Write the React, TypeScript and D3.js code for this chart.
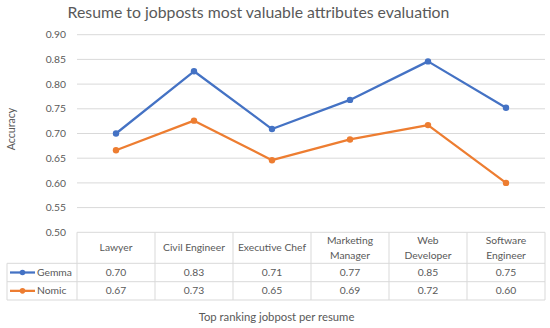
import React from "react";
import * as d3 from "d3";

const categories = ["Lawyer", "Civil Engineer", "Executive Chef", "Marketing Manager", "Web Developer", "Software Engineer"];
const headerLines = [["Lawyer"], ["Civil Engineer"], ["Executive Chef"], ["Marketing", "Manager"], ["Web", "Developer"], ["Software", "Engineer"]];
const gemma = [0.70, 0.826, 0.709, 0.768, 0.846, 0.752];
const nomic = [0.666, 0.726, 0.646, 0.688, 0.717, 0.600];
const yTicks = [0.5, 0.55, 0.6, 0.65, 0.7, 0.75, 0.8, 0.85, 0.9];
const seriesNames = ["Gemma", "Nomic"];
const seriesColors = ["#4472C4", "#ED7D31"];

const W = 550, H = 328;
const FONT = "Lato, 'Open Sans', sans-serif";
const TXT = "#595959";
const GRID = "#D9D9D9";
const FS = 10.3;

export default function App() {
  const x = d3.scaleBand<string>().domain(categories).range([77, 545]);
  const y = d3.scaleLinear().domain([0.5, 0.9]).range([232.3, 34.7]);
  const line = d3.line<number>()
    .x((_, i) => (x(categories[i]) as number) + x.bandwidth() / 2)
    .y((d) => y(d));
  const series = [gemma, nomic];
  const tableTop = y(0.5);
  const rowHeader = 263.3;
  const rowG = 281.7;
  const rowN = 300;
  const tableLeft = 7;
  const rowBounds = [[rowHeader, rowG], [rowG, rowN]];

  return (
    <div style={{ position: "absolute", left: 0, top: 0 }}>
      <svg width={W} height={H} style={{ display: "block", background: "#fff" }} fontFamily={FONT}>
        <rect width={W} height={H} fill="#fff" />
        <text x={258.5} y={17.5} textAnchor="middle" fontSize={15.8} fill={TXT}>
          Resume to jobposts most valuable attributes evaluation
        </text>
        {yTicks.map((t) => (
          <g key={t}>
            {t > 0.5 && <line x1={77} x2={545} y1={y(t)} y2={y(t)} stroke={GRID} strokeWidth={1} />}
            <text x={66} y={y(t)} dy="0.35em" textAnchor="end" fontSize={FS} fill={TXT}>
              {t.toFixed(2)}
            </text>
          </g>
        ))}
        <text transform={`translate(15,${129}) rotate(-90)`} textAnchor="middle" fontSize={10.6} fill={TXT}>
          Accuracy
        </text>
        <line x1={77} x2={545} y1={tableTop} y2={tableTop} stroke={GRID} />
        {[rowHeader, rowG, rowN].map((ry) => (
          <line key={ry} x1={tableLeft} x2={545} y1={ry} y2={ry} stroke={GRID} />
        ))}
        <line x1={tableLeft} x2={tableLeft} y1={rowHeader} y2={rowN} stroke={GRID} />
        {categories.map((c) => (
          <line key={c} x1={x(c)} x2={x(c)} y1={tableTop} y2={rowN} stroke={GRID} />
        ))}
        <line x1={545} x2={545} y1={tableTop} y2={rowN} stroke={GRID} />
        {categories.map((c, i) => {
          const cx = (x(c) as number) + x.bandwidth() / 2;
          const lines = headerLines[i];
          const mid = (tableTop + rowHeader) / 2;
          return (
            <text key={c} textAnchor="middle" fontSize={FS} fill={TXT}>
              {lines.map((l, j) => (
                <tspan key={j} x={cx} y={mid + (j - (lines.length - 1) / 2) * 14.3} dy="0.35em">{l}</tspan>
              ))}
            </text>
          );
        })}
        {series.map((s, si) => {
          const [r0, r1] = rowBounds[si];
          const my = (r0 + r1) / 2;
          return (
            <g key={si}>
              <line x1={10} x2={35} y1={my} y2={my} stroke={seriesColors[si]} strokeWidth={2.25} />
              <circle cx={22.5} cy={my} r={2.8} fill={seriesColors[si]} />
              <text x={37} y={my} dy="0.35em" fontSize={FS} fill={TXT}>{seriesNames[si]}</text>
              {s.map((v, i) => (
                <text key={i} x={(x(categories[i]) as number) + x.bandwidth() / 2} y={my} dy="0.35em" textAnchor="middle" fontSize={FS} fill={TXT}>
                  {v.toFixed(2)}
                </text>
              ))}
            </g>
          );
        })}
        {series.map((s, si) => (
          <g key={"l" + si}>
            <path d={line(s) as string} fill="none" stroke={seriesColors[si]} strokeWidth={2.25} strokeLinejoin="round" strokeLinecap="round" />
            {s.map((v, i) => (
              <circle key={i} cx={(x(categories[i]) as number) + x.bandwidth() / 2} cy={y(v)} r={3.2} fill={seriesColors[si]} />
            ))}
          </g>
        ))}
        <text x={276.5} y={320.5} textAnchor="middle" fontSize={11.3} fill={TXT}>
          Top ranking jobpost per resume
        </text>
      </svg>
    </div>
  );
}
